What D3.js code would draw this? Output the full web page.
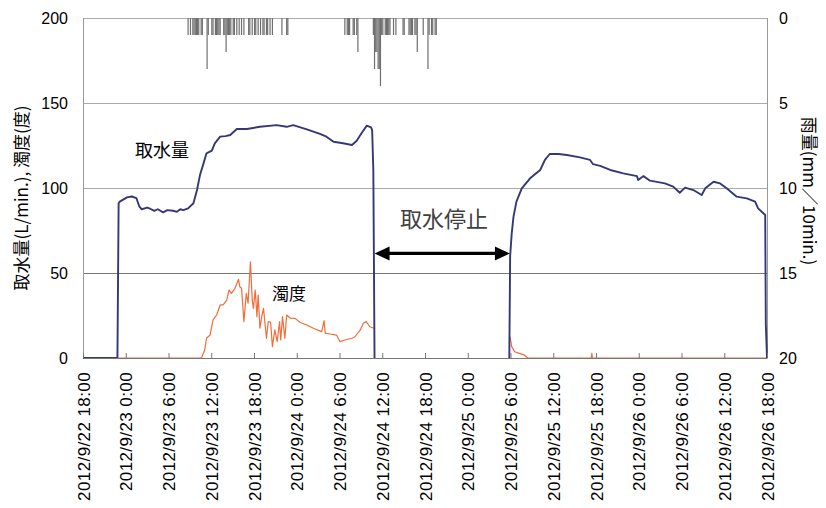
<!DOCTYPE html>
<html>
<head>
<meta charset="utf-8">
<script src="https://cdn.jsdelivr.net/npm/d3@7"></script>
<style>
  html, body { margin: 0; padding: 0; background: #fff; }
  svg { display: block; }
  .num { font-family: "Liberation Sans", Arial, sans-serif; }
  .jp { font-family: "Noto Sans CJK JP", sans-serif; }
</style>
</head>
<body>
<svg id="chart" width="826" height="508"></svg>
<script>
// ---------------- data ----------------
const timeDomain = ["2012-09-22 18:00", "2012-09-26 18:00"];
const leftTicks = [0, 50, 100, 150, 200];
const rightTicks = [0, 5, 10, 15, 20];

// 取水量 (L/min.)  — intake stopped between the two segments
const flowA = [
  ["2012-09-22 18:00", 0], ["2012-09-22 22:50", 0], ["2012-09-22 23:00", 91],
  ["2012-09-22 23:10", 92], ["2012-09-23 00:10", 94.5], ["2012-09-23 00:50", 95],
  ["2012-09-23 01:30", 94], ["2012-09-23 01:55", 89], ["2012-09-23 02:15", 87.5],
  ["2012-09-23 03:00", 88.5], ["2012-09-23 03:25", 87.8], ["2012-09-23 04:00", 86.5],
  ["2012-09-23 04:30", 87.5], ["2012-09-23 05:15", 85.7], ["2012-09-23 05:50", 87],
  ["2012-09-23 06:40", 86.6], ["2012-09-23 07:10", 86], ["2012-09-23 07:40", 87.5],
  ["2012-09-23 08:05", 87], ["2012-09-23 08:45", 88], ["2012-09-23 09:30", 91],
  ["2012-09-23 10:00", 98.8], ["2012-09-23 10:25", 107.6], ["2012-09-23 10:55", 114.5],
  ["2012-09-23 11:20", 120.4], ["2012-09-23 12:05", 122], ["2012-09-23 12:30", 126.3],
  ["2012-09-23 13:15", 130.2], ["2012-09-23 14:00", 130.5], ["2012-09-23 14:40", 131.2],
  ["2012-09-23 15:35", 134.7], ["2012-09-23 17:00", 134.7], ["2012-09-23 18:50", 136],
  ["2012-09-23 21:10", 137], ["2012-09-23 22:35", 136], ["2012-09-23 23:30", 137],
  ["2012-09-24 01:25", 134.5], ["2012-09-24 03:15", 131.8], ["2012-09-24 04:10", 130.2],
  ["2012-09-24 05:10", 127.2], ["2012-09-24 06:30", 126.3], ["2012-09-24 07:45", 125.3],
  ["2012-09-24 08:25", 127.8], ["2012-09-24 09:05", 132.2], ["2012-09-24 09:50", 136.7],
  ["2012-09-24 10:25", 135.7], ["2012-09-24 10:35", 134], ["2012-09-24 10:45", 110],
  ["2012-09-24 10:55", 0]
];
const flowB = [
  ["2012-09-25 05:50", 0], ["2012-09-25 05:57", 60], ["2012-09-25 06:10", 73],
  ["2012-09-25 06:25", 83], ["2012-09-25 06:50", 92], ["2012-09-25 07:35", 99.8],
  ["2012-09-25 08:45", 105.7], ["2012-09-25 10:10", 110.6], ["2012-09-25 10:50", 116.5],
  ["2012-09-25 11:30", 120], ["2012-09-25 12:45", 120], ["2012-09-25 13:55", 119.4],
  ["2012-09-25 15:45", 118], ["2012-09-25 17:10", 116.5], ["2012-09-25 17:35", 114],
  ["2012-09-25 18:35", 113], ["2012-09-25 20:00", 110.6], ["2012-09-25 21:50", 108.6],
  ["2012-09-25 23:45", 107], ["2012-09-25 23:55", 104.7], ["2012-09-26 00:40", 107],
  ["2012-09-26 01:35", 104.3], ["2012-09-26 03:40", 102.7], ["2012-09-26 04:50", 100.8],
  ["2012-09-26 05:45", 97.2], ["2012-09-26 06:30", 100.2], ["2012-09-26 07:40", 98.8],
  ["2012-09-26 08:50", 95.9], ["2012-09-26 09:20", 99.8], ["2012-09-26 10:30", 103.7],
  ["2012-09-26 11:25", 102.7], ["2012-09-26 12:20", 99.8], ["2012-09-26 13:45", 94.9],
  ["2012-09-26 15:10", 93.9], ["2012-09-26 16:20", 92], ["2012-09-26 16:45", 88],
  ["2012-09-26 17:45", 84.1], ["2012-09-26 17:50", 20], ["2012-09-26 18:00", 0]
];

// 濁度 (度)
const turbA = [
  ["2012-09-22 23:00", 0], ["2012-09-23 10:30", 0], ["2012-09-23 10:40", 0.4],
  ["2012-09-23 11:05", 4.7], ["2012-09-23 11:20", 11.6], ["2012-09-23 11:50", 13.5],
  ["2012-09-23 12:15", 22.4], ["2012-09-23 12:45", 25.3], ["2012-09-23 13:15", 31.2],
  ["2012-09-23 13:40", 31.2], ["2012-09-23 14:10", 34.1], ["2012-09-23 14:30", 40],
  ["2012-09-23 14:50", 38], ["2012-09-23 15:20", 41], ["2012-09-23 15:50", 46.3],
  ["2012-09-23 16:00", 41.9], ["2012-09-23 16:15", 41], ["2012-09-23 16:35", 21.4],
  ["2012-09-23 16:55", 38], ["2012-09-23 17:10", 32.2], ["2012-09-23 17:30", 56.6],
  ["2012-09-23 17:45", 34], ["2012-09-23 17:55", 29.2], ["2012-09-23 18:10", 40],
  ["2012-09-23 18:25", 24.3], ["2012-09-23 18:35", 37], ["2012-09-23 18:50", 17.5],
  ["2012-09-23 19:05", 24.3], ["2012-09-23 19:20", 29.2], ["2012-09-23 19:45", 11.6],
  ["2012-09-23 20:00", 21.4], ["2012-09-23 20:20", 21], ["2012-09-23 20:35", 6.7],
  ["2012-09-23 20:55", 16.5], ["2012-09-23 21:15", 9.6], ["2012-09-23 21:35", 21.4],
  ["2012-09-23 21:45", 10.6], ["2012-09-23 22:00", 24.3], ["2012-09-23 22:20", 11.6],
  ["2012-09-23 22:35", 25.3], ["2012-09-23 23:05", 23.5], ["2012-09-23 23:45", 23.3],
  ["2012-09-24 00:30", 20.9], ["2012-09-24 01:25", 19.4], ["2012-09-24 02:20", 17.5],
  ["2012-09-24 03:30", 15.5], ["2012-09-24 03:50", 22], ["2012-09-24 04:00", 14.5],
  ["2012-09-24 04:40", 14.1], ["2012-09-24 05:35", 13.5], ["2012-09-24 06:05", 9.6],
  ["2012-09-24 06:45", 10.6], ["2012-09-24 07:45", 11.6], ["2012-09-24 08:10", 12.5],
  ["2012-09-24 08:55", 16.5], ["2012-09-24 09:20", 20.4], ["2012-09-24 09:45", 21.4],
  ["2012-09-24 10:15", 18.4], ["2012-09-24 10:50", 17.5]
];
const turbB = [
  ["2012-09-25 05:57", 12.5], ["2012-09-25 06:10", 6.7], ["2012-09-25 06:35", 3.7],
  ["2012-09-25 07:15", 2.7], ["2012-09-25 07:55", 1.8], ["2012-09-25 08:25", 0],
  ["2012-09-25 17:20", 0], ["2012-09-25 17:25", 2.7], ["2012-09-25 17:30", 0],
  ["2012-09-26 18:00", 0]
];

// 雨量 (mm/10min.)
const rain = [
  ["2012-09-23 08:40", 1], ["2012-09-23 09:00", 1], ["2012-09-23 09:20", 1],
  ["2012-09-23 09:30", 1], ["2012-09-23 09:40", 1], ["2012-09-23 09:50", 1],
  ["2012-09-23 10:00", 1], ["2012-09-23 10:10", 1], ["2012-09-23 10:30", 1],
  ["2012-09-23 10:40", 1], ["2012-09-23 11:20", 3], ["2012-09-23 11:30", 1],
  ["2012-09-23 12:00", 1], ["2012-09-23 12:10", 1], ["2012-09-23 12:30", 1],
  ["2012-09-23 12:40", 1], ["2012-09-23 12:50", 1], ["2012-09-23 13:00", 1],
  ["2012-09-23 13:10", 1], ["2012-09-23 13:40", 1], ["2012-09-23 13:50", 1],
  ["2012-09-23 14:00", 2], ["2012-09-23 14:10", 1], ["2012-09-23 14:20", 1],
  ["2012-09-23 14:30", 1], ["2012-09-23 14:40", 1], ["2012-09-23 15:00", 1],
  ["2012-09-23 15:10", 1], ["2012-09-23 15:30", 1], ["2012-09-23 15:50", 1],
  ["2012-09-23 16:10", 1], ["2012-09-23 16:30", 1], ["2012-09-23 17:10", 1],
  ["2012-09-23 17:20", 1], ["2012-09-23 17:40", 1], ["2012-09-23 18:00", 1],
  ["2012-09-23 18:10", 1], ["2012-09-23 18:30", 1], ["2012-09-23 18:50", 1],
  ["2012-09-23 19:10", 1], ["2012-09-23 19:20", 1], ["2012-09-23 19:40", 1],
  ["2012-09-23 19:50", 1], ["2012-09-23 20:10", 1], ["2012-09-23 20:30", 1],
  ["2012-09-23 21:50", 1], ["2012-09-23 22:30", 1], ["2012-09-23 22:40", 1],
  ["2012-09-24 06:40", 1], ["2012-09-24 07:00", 1], ["2012-09-24 07:10", 1],
  ["2012-09-24 07:20", 1], ["2012-09-24 07:50", 1], ["2012-09-24 08:00", 1],
  ["2012-09-24 08:20", 1], ["2012-09-24 08:30", 2], ["2012-09-24 10:40", 1],
  ["2012-09-24 10:50", 3], ["2012-09-24 11:00", 2], ["2012-09-24 11:10", 2],
  ["2012-09-24 11:20", 3], ["2012-09-24 11:30", 3], ["2012-09-24 11:40", 4],
  ["2012-09-24 11:50", 1], ["2012-09-24 12:00", 1], ["2012-09-24 12:20", 1],
  ["2012-09-24 12:30", 1], ["2012-09-24 12:40", 1], ["2012-09-24 12:50", 1],
  ["2012-09-24 13:00", 1], ["2012-09-24 13:30", 1], ["2012-09-24 13:50", 1],
  ["2012-09-24 14:50", 1], ["2012-09-24 15:00", 1], ["2012-09-24 15:40", 1],
  ["2012-09-24 15:50", 1], ["2012-09-24 16:00", 1], ["2012-09-24 16:10", 1],
  ["2012-09-24 16:30", 1], ["2012-09-24 16:40", 1], ["2012-09-24 16:50", 2],
  ["2012-09-24 17:40", 1], ["2012-09-24 18:20", 3], ["2012-09-24 18:30", 1],
  ["2012-09-24 18:50", 1], ["2012-09-24 19:00", 1], ["2012-09-24 19:20", 1],
  ["2012-09-24 19:30", 1]
];

// annotations (in data coordinates)
const labelFlow = { text: "取水量", t: "2012-09-23 05:05", v: 118 };
const labelTurb = { text: "濁度", t: "2012-09-23 22:55", v: 34 };
const labelStop = { text: "取水停止", t: "2012-09-24 20:40", v: 77 };
const stopArrow = { from: "2012-09-24 10:55", to: "2012-09-25 05:55", v: 61.5 };

// ---------------- drawing ----------------
const M = { left: 83, right: 767, top: 18, bottom: 358 };
const parse = d3.timeParse("%Y-%m-%d %H:%M");
const svg = d3.select("#chart");

const x = d3.scaleTime().domain(timeDomain.map(parse)).range([M.left, M.right]);
const y = d3.scaleLinear().domain([0, 200]).range([M.bottom, M.top]);
const yR = d3.scaleLinear().domain([0, 20]).range([M.top, M.bottom]);

// gridlines
svg.append("g").selectAll("line").data(leftTicks.filter(d => d > 0 && d < 200)).join("line")
  .attr("x1", M.left).attr("x2", M.right)
  .attr("y1", d => y(d) + 0.5).attr("y2", d => y(d) + 0.5)
  .attr("stroke", d => d === 50 ? "#777" : "#aaa").attr("stroke-width", 1);

// frame
svg.append("line").attr("x1", M.left).attr("x2", M.right).attr("y1", M.top + 0.5).attr("y2", M.top + 0.5).attr("stroke", "#aaa");
svg.append("line").attr("x1", M.left + 0.5).attr("x2", M.left + 0.5).attr("y1", M.top).attr("y2", M.bottom).attr("stroke", "#999");
svg.append("line").attr("x1", M.right + 0.5).attr("x2", M.right + 0.5).attr("y1", M.top).attr("y2", M.bottom).attr("stroke", "#999");

// rain bars
const tenMin = 10 * 60 * 1000;
svg.append("g").selectAll("rect").data(rain).join("rect")
  .attr("x", d => x(parse(d[0])))
  .attr("width", d => x(new Date(+parse(d[0]) + tenMin)) - x(parse(d[0])))
  .attr("y", yR(0))
  .attr("height", d => yR(d[1]) - yR(0))
  .attr("fill", "#6e6e6e");

// lines
const line = d3.line().x(d => x(parse(d[0]))).y(d => y(d[1]));
[turbA, turbB].forEach(s => {
  svg.append("path").datum(s).attr("d", line)
    .attr("fill", "none").attr("stroke", "#f26d3a").attr("stroke-width", 1.2)
    .attr("stroke-linejoin", "round");
});
[flowA, flowB].forEach(s => {
  svg.append("path").datum(s).attr("d", line)
    .attr("fill", "none").attr("stroke", "#353877").attr("stroke-width", 1.9)
    .attr("stroke-linejoin", "round");
});

// bottom axis
const xAxis = d3.axisBottom(x)
  .ticks(d3.timeHour.every(6))
  .tickSizeInner(-5).tickSizeOuter(0)
  .tickFormat(d3.timeFormat("%Y/%-m/%-d %-H:%M"));
const gx = svg.append("g").attr("transform", `translate(0,${M.bottom})`).call(xAxis);
gx.select(".domain").attr("stroke", "#777");
gx.selectAll(".tick line").attr("stroke", "#777");
gx.selectAll(".tick text")
  .attr("class", "num")
  .attr("font-size", 17)
  .attr("letter-spacing", "0.4px")
  .attr("fill", "#000")
  .attr("transform", "rotate(-90)")
  .attr("text-anchor", "end")
  .attr("x", -14).attr("y", 0).attr("dy", "0.36em");

// left axis
const gl = svg.append("g").attr("transform", `translate(${M.left},0)`)
  .call(d3.axisLeft(y).tickValues(leftTicks).tickSize(0).tickPadding(15));
gl.select(".domain").remove();
gl.selectAll("text").attr("class", "num").attr("font-size", 16).attr("fill", "#000");

// right axis
const gr = svg.append("g").attr("transform", `translate(${M.right},0)`)
  .call(d3.axisRight(yR).tickValues(rightTicks).tickSize(0).tickPadding(12));
gr.select(".domain").remove();
gr.selectAll("text").attr("class", "num").attr("font-size", 16).attr("fill", "#000");

// axis titles
svg.append("text").attr("class", "jp")
  .attr("transform", `translate(28,${(M.top + M.bottom) / 2 + 10}) rotate(-90)`)
  .attr("text-anchor", "middle").attr("font-size", 17).attr("fill", "#000")
  .text("取水量(L/min.), 濁度(度)");
svg.append("text").attr("class", "jp")
  .attr("transform", `translate(803,${(M.top + M.bottom) / 2 + 3}) rotate(90)`)
  .attr("text-anchor", "middle").attr("font-size", 17).attr("fill", "#000")
  .text("雨量(mm／10min.)");

// annotations
svg.append("text").attr("class", "jp")
  .attr("x", x(parse(labelFlow.t))).attr("y", y(labelFlow.v))
  .attr("text-anchor", "middle").attr("font-size", 18).attr("fill", "#000")
  .text(labelFlow.text);
svg.append("text").attr("class", "jp")
  .attr("x", x(parse(labelTurb.t))).attr("y", y(labelTurb.v))
  .attr("text-anchor", "middle").attr("font-size", 17).attr("fill", "#000")
  .text(labelTurb.text);
svg.append("text").attr("class", "jp")
  .attr("x", x(parse(labelStop.t))).attr("y", y(labelStop.v))
  .attr("text-anchor", "middle").attr("font-size", 22).attr("fill", "#404040")
  .text(labelStop.text);

// double arrow
const ax1 = x(parse(stopArrow.from)), ax2 = x(parse(stopArrow.to)), ay = y(stopArrow.v);
const head = 15, hh = 7;
svg.append("line").attr("x1", ax1 + head - 2).attr("x2", ax2 - head + 2)
  .attr("y1", ay).attr("y2", ay).attr("stroke", "#000").attr("stroke-width", 3.2);
svg.append("path").attr("d", `M${ax1},${ay} L${ax1 + head},${ay - hh} L${ax1 + head},${ay + hh} Z`).attr("fill", "#000");
svg.append("path").attr("d", `M${ax2},${ay} L${ax2 - head},${ay - hh} L${ax2 - head},${ay + hh} Z`).attr("fill", "#000");
</script>
</body>
</html>
